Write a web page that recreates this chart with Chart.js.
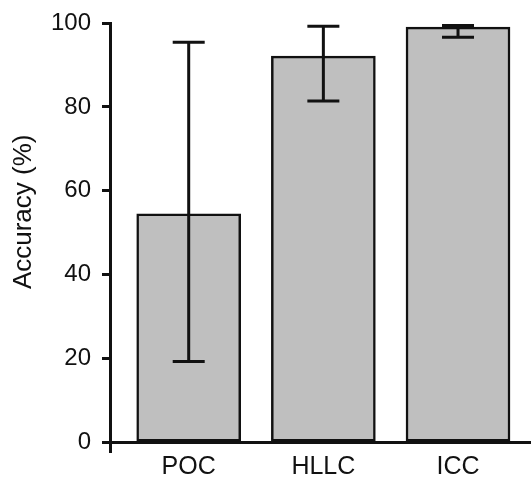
<!DOCTYPE html>
<html>
<head>
<meta charset="utf-8">
<script src="https://cdn.jsdelivr.net/npm/chart.js@4/dist/chart.umd.min.js"></script>
<style>
  html, body { margin: 0; padding: 0; background: #fff; }
  #wrap { width: 531px; height: 482px; }
</style>
</head>
<body>
<div id="wrap"><canvas id="accuracyChart" width="531" height="482"></canvas></div>
<script>
// data
const categories = ['POC', 'HLLC', 'ICC'];
const accuracy = [54.5, 92.1, 99.0];
const errLow = [19.3, 81.4, 96.6];
const errHigh = [95.4, 99.2, 99.4];
const yTicks = [0, 20, 40, 60, 80, 100];
const yTitle = 'Accuracy (%)';

const FONT = '"Liberation Sans", Arial, Helvetica, sans-serif';
const INK = '#111';

// whiskers drawn over the bars
const errorBars = {
  id: 'errorBars',
  afterDatasetsDraw(chart) {
    const ctx = chart.ctx;
    const y = chart.scales.y;
    const meta = chart.getDatasetMeta(0);
    ctx.save();
    ctx.strokeStyle = INK;
    ctx.lineWidth = 3;
    meta.data.forEach((bar, i) => {
      const top = y.getPixelForValue(errHigh[i]);
      const bot = y.getPixelForValue(errLow[i]);
      const cap = 16;
      ctx.beginPath();
      ctx.moveTo(bar.x, top);
      ctx.lineTo(bar.x, bot);
      ctx.moveTo(bar.x - cap, top);
      ctx.lineTo(bar.x + cap, top);
      ctx.moveTo(bar.x - cap, bot);
      ctx.lineTo(bar.x + cap, bot);
      ctx.stroke();
    });
    ctx.restore();
  }
};

// y title sits a bit above the middle of the axis in the original
const axisTitle = {
  id: 'axisTitle',
  afterDraw(chart) {
    const ctx = chart.ctx;
    const y = chart.scales.y;
    ctx.save();
    ctx.translate(24, y.getPixelForValue(55));
    ctx.rotate(-Math.PI / 2);
    ctx.fillStyle = INK;
    ctx.font = '26px ' + FONT;
    ctx.textAlign = 'center';
    ctx.textBaseline = 'middle';
    ctx.fillText(yTitle, 0, 0);
    ctx.restore();
  }
};

new Chart(document.getElementById('accuracyChart'), {
  type: 'bar',
  data: {
    datasets: [{
      data: accuracy.map((v, i) => ({ x: i, y: v })),
      backgroundColor: '#bfbfbf',
      borderColor: INK,
      borderWidth: 2.5,
      borderSkipped: false,
      barThickness: 104
    }]
  },
  options: {
    responsive: false,
    animation: false,
    layout: { padding: { top: 21, right: 0, bottom: 0, left: 0 } },
    plugins: { legend: { display: false }, tooltip: { enabled: false } },
    scales: {
      x: {
        type: 'linear',
        offset: false,
        min: -0.5845,
        max: 2.542,
        border: { display: false },
        grid: { display: false, drawTicks: false, offset: false },
        afterBuildTicks: (s) => { s.ticks = categories.map((c, i) => ({ value: i })); },
        afterFit: (s) => { s.height = 31; },
        ticks: {
          includeBounds: false,
          padding: 1,
          color: INK,
          font: { family: FONT, size: 25 },
          callback: (v) => categories[v]
        }
      },
      y: {
        min: -2.0,
        max: 100,
        afterBuildTicks: (s) => { s.ticks = yTicks.map(v => ({ value: v })); },
        afterFit: (s) => { s.width = 110; },
        border: { display: true, color: INK, width: 3 },
        grid: {
          drawOnChartArea: true,
          lineWidth: 3,
          tickLength: 8,
          tickColor: INK,
          color: (c) => (c.tick && c.tick.value === 0) ? INK : 'rgba(0,0,0,0)'
        },
        ticks: {
          padding: 11,
          color: INK,
          font: { family: FONT, size: 24, lineHeight: 1 }
        }
      }
    }
  },
  plugins: [errorBars, axisTitle]
});
</script>
</body>
</html>
